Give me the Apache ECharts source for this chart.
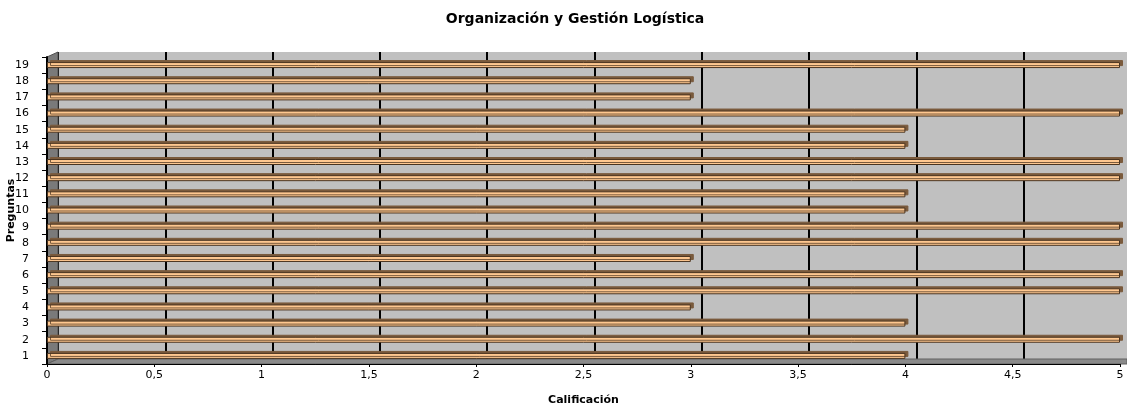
<!DOCTYPE html>
<html><head><meta charset="utf-8">
<script src="https://cdn.jsdelivr.net/npm/echarts@6/dist/echarts.min.js"></script>
<style>html,body{margin:0;padding:0;background:#fff}#c{width:1127px;height:408px}</style>
</head><body><div id="c"></div>
<script>
const categories = ['1','2','3','4','5','6','7','8','9','10','11','12','13','14','15','16','17','18','19'];
const values = [4,5,4,3,5,5,3,5,5,4,4,5,5,4,4,5,3,3,5];
const xTickLabels = ['0','0,5','1','1,5','2','2,5','3','3,5','4','4,5','5'];
const titleText = 'Organización y Gestión Logística';
const xName = 'Calificación';
const yName = 'Preguntas';

const W = 1127, H = 408;
const front = { left: 47, right: 7, top: 57, bottom: 44 };
const depth = { dx: 11, dy: 5 };
const font = '"DejaVu Sans", Verdana, sans-serif';

const chart = echarts.init(document.getElementById('c'));
const fx0 = front.left, fyTop = front.top, fyBot = H - front.bottom;
chart.setOption({
  animation: false,
  backgroundColor: '#fff',
  title: { text: titleText, left: 570, top: 7, textAlign: 'center',
    textStyle: { fontFamily: font, fontSize: 14, fontWeight: 'bold', color: '#000' } },
  graphic: { elements: [
    { type: 'polygon', z: 1, zlevel: 0, silent: true,
      shape: { points: [[fx0, fyTop], [fx0 + depth.dx, fyTop - depth.dy], [fx0 + depth.dx, fyBot - depth.dy], [fx0, fyBot]] },
      style: { fill: '#7a7a7a', stroke: '#505050', lineWidth: 1 } },
    { type: 'polygon', z: 1, zlevel: 0, silent: true,
      shape: { points: [[fx0, fyBot], [fx0 + depth.dx, fyBot - depth.dy], [W, fyBot - depth.dy], [W, fyBot]] },
      style: { fill: '#8a8a8a', stroke: '#606060', lineWidth: 1 } }
  ] },
  grid: [
    { left: front.left, right: front.right, top: front.top, bottom: front.bottom, show: false,
      containLabel: false, outerBoundsMode: 'none' },
    { left: front.left + depth.dx, right: front.right - depth.dx, top: front.top - depth.dy, bottom: front.bottom + depth.dy,
      show: true, backgroundColor: '#c0c0c0', borderWidth: 0, z: -1,
      containLabel: false, outerBoundsMode: 'none' }
  ],
  xAxis: [{
    type: 'value', gridIndex: 0, min: 0, max: 5, interval: 0.5, z: 3,
    name: xName, nameLocation: 'middle', nameGap: 31, nameMoveOverlap: false,
    nameTextStyle: { fontFamily: font, fontSize: 11, fontWeight: 'bold', color: '#000' },
    axisLine: { show: true, lineStyle: { color: '#000', width: 1 } },
    axisTick: { show: true, length: 3, lineStyle: { color: '#000' } },
    axisLabel: { fontFamily: font, fontSize: 11, color: '#000', margin: 6,
      formatter: v => xTickLabels[Math.round(v * 2)] },
    splitLine: { show: false }
  }, {
    type: 'value', gridIndex: 1, min: 0, max: 5, interval: 0.5,
    axisLine: { show: false }, axisTick: { show: false }, axisLabel: { show: false },
    splitLine: { show: true, lineStyle: { color: '#000', width: 2 } }
  }],
  yAxis: [{
    type: 'category', gridIndex: 0, data: categories, z: 3,
    name: yName, nameLocation: 'middle', nameGap: 30, nameRotate: 90, nameMoveOverlap: false,
    nameTextStyle: { fontFamily: font, fontSize: 11, fontWeight: 'bold', color: '#000' },
    axisLine: { show: true, lineStyle: { color: '#000', width: 2 } },
    axisTick: { show: true, length: 5, lineStyle: { color: '#000' } },
    axisLabel: { fontFamily: font, fontSize: 11, color: '#000', margin: 18 },
    splitLine: { show: false }
  }, {
    type: 'category', gridIndex: 1, data: categories, show: false
  }],
  series: [{
    type: 'bar', xAxisIndex: 0, yAxisIndex: 0, data: values, barWidth: 6, z: 4,
    itemStyle: { color: '#ffc890', borderColor: '#4a3420', borderWidth: 1,
      shadowColor: '#7a5a3c', shadowOffsetX: 3, shadowOffsetY: -2, shadowBlur: 0 }
  }]
});
</script>
</body></html>
